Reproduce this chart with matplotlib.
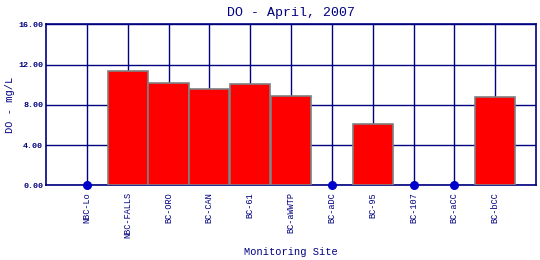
import matplotlib
matplotlib.use("Agg")
import matplotlib.pyplot as plt
import numpy as np

# monitoring sites and dissolved oxygen readings (nan = no sample)
sites = ["NBC-Lo", "NBC-FALLS", "BC-ORO", "BC-CAN", "BC-61", "BC-aWWTP",
         "BC-aDC", "BC-95", "BC-107", "BC-aCC", "BC-bCC"]
do_values = [np.nan, 11.37, 10.18, 9.58, 10.08, 8.83,
             np.nan, 6.11, np.nan, np.nan, 8.73]
y_ticks = [0, 4, 8, 12, 16]

navy = "#000080"
mono = ["Liberation Mono", "DejaVu Sans Mono"]

fig = plt.figure(figsize=(5.4, 2.6), dpi=100)
ax = fig.add_axes([0.0852, 0.2873, 0.9074, 0.6192])

x = np.arange(len(sites))
vals = np.array(do_values, dtype=float)
has = ~np.isnan(vals)

ax.bar(x[has], vals[has], width=0.98, color="#ff0000", edgecolor="#808080",
       linewidth=1.2, zorder=3)
# missing samples shown as dots on the zero line
ax.plot(x[~has], np.zeros((~has).sum()), "o", color="#0000cc",
        markersize=5.5, zorder=5, clip_on=False)

ax.set_xlim(-1, 11)
ax.set_ylim(0, 16)
ax.set_yticks(y_ticks)
ax.set_yticklabels([f"{v:.2f}" for v in y_ticks], family=mono,
                   fontsize=6, fontweight="bold", color=navy)
ax.set_xticks(x)
ax.set_xticklabels(sites, rotation=90, family=mono, fontsize=6.2,
                   color=navy, va="top", ha="center")
ax.tick_params(axis="both", length=0, pad=2)
ax.tick_params(axis="x", pad=5)

ax.grid(True, color=navy, linewidth=1.0, zorder=1)
ax.set_axisbelow(True)
for s in ax.spines.values():
    s.set_color(navy)
    s.set_linewidth(1.2)

ax.set_title("DO - April, 2007", family=mono, fontsize=9.5, color=navy, pad=6)
fig.text(10 / 540, 1 - 105 / 260, "DO - mg/L", family=mono, fontsize=7.5,
         color=navy, rotation=90, ha="center", va="center")
fig.text(291 / 540, 1 - 252 / 260, "Monitoring Site", family=mono,
         fontsize=7.5, color=navy, ha="center", va="center")

fig.savefig("out.png", dpi=100)
